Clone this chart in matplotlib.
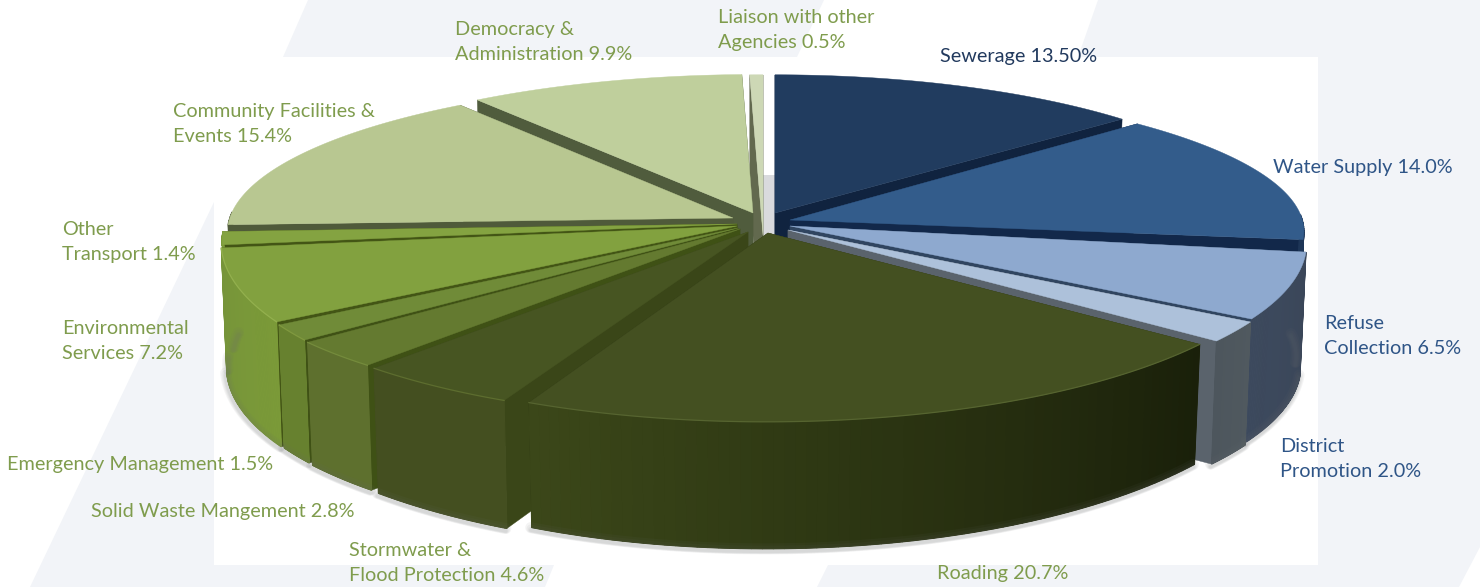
import numpy as np
import matplotlib
matplotlib.use('Agg')
import matplotlib.pyplot as plt
from matplotlib.colors import to_rgb
from matplotlib.patches import Polygon, Rectangle

# Share of spending per activity, clockwise from twelve o'clock
names = ['Sewerage', 'Water Supply', 'Refuse Collection', 'District Promotion', 'Roading',
         'Stormwater', 'Solid Waste', 'Emergency', 'Environmental', 'Other Transport',
         'Community', 'Democracy', 'Liaison']
values = [13.5, 14.0, 6.5, 2.0, 20.7, 4.6, 2.8, 1.5, 7.2, 1.4, 15.4, 9.9, 0.5]

# Label text, then where each label starts and the baseline of its first line
label_text = ['Sewerage 13.50%', 'Water Supply 14.0%', 'Refuse\nCollection 6.5%',
              'District\nPromotion 2.0%', 'Roading 20.7%', 'Stormwater &\nFlood Protection 4.6%',
              'Solid Waste Mangement 2.8%', 'Emergency Management 1.5%',
              'Environmental\nServices 7.2%', 'Other\nTransport 1.4%',
              'Community Facilities &\nEvents 15.4%', 'Democracy &\nAdministration 9.9%',
              'Liaison with other\nAgencies 0.5%']
label_x = [940, 1273, 1324, 1280, 937, 349, 91, 7, 62, 62, 173, 455, 718]
label_y = [62, 173, 329, 452, 579, 556, 517, 470, 334, 235, 117, 35, 23]
dark_navy = '#223a5e'
blue = '#2f5587'
green = '#7f9c4d'
label_colors = [dark_navy, blue, blue, blue, green, green, green, green, green, green, green, green, green]

# Slice placement: centre and stretch of each outer rim, and the inner tip
rim_x = [775, 750, 812, 811, 766, 733, 715, 703, 669, 760, 756, 756, 763]
rim_y = [214.5, 216, 226, 228, 222, 225, 236, 221, 225, 224, 217, 208, 230]
stretch_x = [0.923, 1.03, 0.92, 0.92, 0.984, 0.95, 0.92, 0.9, 0.833, 1.0, 0.983, 0.926, 0.87]
stretch_y = [0.9, 0.87, 0.96, 0.97, 1.05, 1.02, 0.92, 1.03, 0.96, 0.87, 0.89, 0.86, 1.0]
tip_x = [775, 790, 790, 788, 768, 748, 740, 738, 737, 737, 733, 753, 763]
tip_y = [213, 220, 226, 230, 233, 232, 229, 228, 226, 224, 218, 213, 235]
wall_height = [123, 123, 123, 123, 120, 123, 123, 123, 125, 125, 123, 123, 123]

top_colors = ['#213c5f', '#335c8b', '#8ea9cf', '#adc1da', '#445021', '#475522', '#647a30',
              '#708b38', '#82a13f', '#84a341', '#b8c791', '#bfcf9c', '#cdd8b5']
face_colors = ['#10233f', '#12284a', '#304560', '#5a636c', '#2a3312', '#3a4618', '#3f5115',
               '#3f5115', '#435515', '#435515', '#4f5a3a', '#505c3d', '#62694e']
side_start = ['#10233f', '#1d3557', '#3a4658', '#50595f', '#1a200a', '#444f20', '#5e702e',
              '#67812f', '#7b9a38', '#7b9a38', '#4f5a3a', '#505c3d', '#62694e']
side_end = ['#10233f', '#1d3557', '#3d4a5e', '#4d565d', '#3b4719', '#444f20', '#5e702e',
            '#67812f', '#76943a', '#7b9a38', '#4f5a3a', '#505c3d', '#62694e']
# Rim highlight on the green slices only
rim_colors = [None, None, None, None, '#566430', '#5d6d2f', '#748b3c', '#80993f', '#93b04e', None, None, None, None]

# Back to front, so nearer slices cover farther ones
draw_order = [12, 11, 0, 10, 1, 9, 8, 7, 6, 2, 3, 5, 4]

# View of the disc
radius_x = 535
radius_y = 171
perspective = 0.1015
taper = 0.988


def rim_point(theta, i):
    dx = np.sin(theta)
    dy = np.cos(theta)
    w = 1 + perspective * dy
    return stretch_x[i] * radius_x * dx / w, -stretch_y[i] * radius_y * dy / w


def wall_drop(theta, i):
    # Nearer part of the wall looks a little taller
    return wall_height[i] + 7 * np.clip(np.cos(theta) ** 2 - 0.4, 0, None) / 0.6 * (np.cos(theta) < 0)


def blend(c1, c2, t):
    a = np.array(to_rgb(c1))
    b = np.array(to_rgb(c2))
    return tuple(a + (b - a) * t)


def draw_backdrop(ax):
    pale = '#f2f4f8'
    ax.add_patch(Polygon([(308, 0), (824, 0), (797, 57), (283, 57)], color=pale, lw=0))
    ax.add_patch(Polygon([(1098, 0), (1480, 0), (1480, 547), (1459, 587), (817, 587), (828, 565),
                          (1078, 57)], color=pale, lw=0))
    ax.add_patch(Polygon([(214, 202), (30, 587), (545, 587), (554, 565), (400, 300)], color=pale, lw=0))
    ax.add_patch(Rectangle((214, 57), 1104, 508, color='white', lw=0))


def draw_shadow(ax, edges):
    for i in range(len(values)):
        t = np.linspace(edges[i], edges[i + 1], 60)
        t = t[np.cos(t) < 0.05]
        if len(t) < 2:
            continue
        x, y = rim_point(t, i)
        x = rim_x[i] + x * taper
        y = rim_y[i] + y + wall_drop(t, i)
        for off, lw in [(0, 8), (1, 6), (2, 4), (2.5, 2.5)]:
            ax.plot(x - 1, y + off, color='#6a6c6f', alpha=0.07, lw=lw, solid_capstyle='round')


def draw_slice(ax, i, start, end):
    tx, ty = tip_x[i], tip_y[i]
    t = np.linspace(start, end, 70)
    x, y = rim_point(t, i)
    top_x, top_y = rim_x[i] + x, rim_y[i] + y
    low_x, low_y = rim_x[i] + x * taper, top_y + wall_drop(t, i)

    # Radial cut faces, seen only where nothing nearer covers them
    for k in [0, -1]:
        face = [(top_x[k], top_y[k]), (tx, ty), (tx, ty + wall_height[i]), (low_x[k], low_y[k])]
        ax.add_patch(Polygon(face, color=face_colors[i], lw=0.3))

    # Outer wall: a solid base, then thin strips so the shade can change along it
    front = np.cos(t) < 0.02
    if front.sum() > 1:
        base = np.column_stack([np.r_[top_x[front], low_x[front][::-1]],
                                np.r_[top_y[front], low_y[front][::-1]]])
        ax.add_patch(Polygon(base, color=blend(side_start[i], side_end[i], 0.5), lw=0.3))
    for k in range(len(t) - 1):
        if not front[k]:
            continue
        strip = [(top_x[k], top_y[k]), (top_x[k + 1], top_y[k + 1]),
                 (low_x[k + 1], low_y[k + 1]), (low_x[k], low_y[k])]
        shade = blend(side_start[i], side_end[i], k / (len(t) - 2))
        ax.add_patch(Polygon(strip, facecolor=shade, edgecolor=shade, lw=0.8))

    outline = np.column_stack([np.r_[tx, top_x], np.r_[ty, top_y]])
    ax.add_patch(Polygon(outline, color=top_colors[i], lw=0.3))
    if rim_colors[i]:
        ax.plot(top_x, top_y, color=rim_colors[i], lw=0.9)


def main():
    fig = plt.figure(figsize=(14.8, 5.87), dpi=100)
    ax = fig.add_axes([0, 0, 1, 1])
    ax.set_xlim(0, 1480)
    ax.set_ylim(587, 0)
    ax.axis('off')

    draw_backdrop(ax)

    edges = np.r_[0, np.cumsum(values)] / np.sum(values) * 2 * np.pi
    draw_shadow(ax, edges)

    # Lit inner wall showing through the gap at the back of the pie
    gap_x = tip_x[12]
    gap_w = tip_x[0] - gap_x
    ax.add_patch(Rectangle((gap_x, tip_y[0] - 38), gap_w, 60, color='#d9dadd', lw=0))

    for i in draw_order:
        draw_slice(ax, i, edges[i], edges[i + 1])

    for text, x, y, color in zip(label_text, label_x, label_y, label_colors):
        for n, line in enumerate(text.split('\n')):
            ax.text(x, y + n * 25.2, line, color=color, fontsize=14.3, family='Lato', va='baseline')

    fig.savefig('out.png', dpi=100)


if __name__ == "__main__":
    main()
